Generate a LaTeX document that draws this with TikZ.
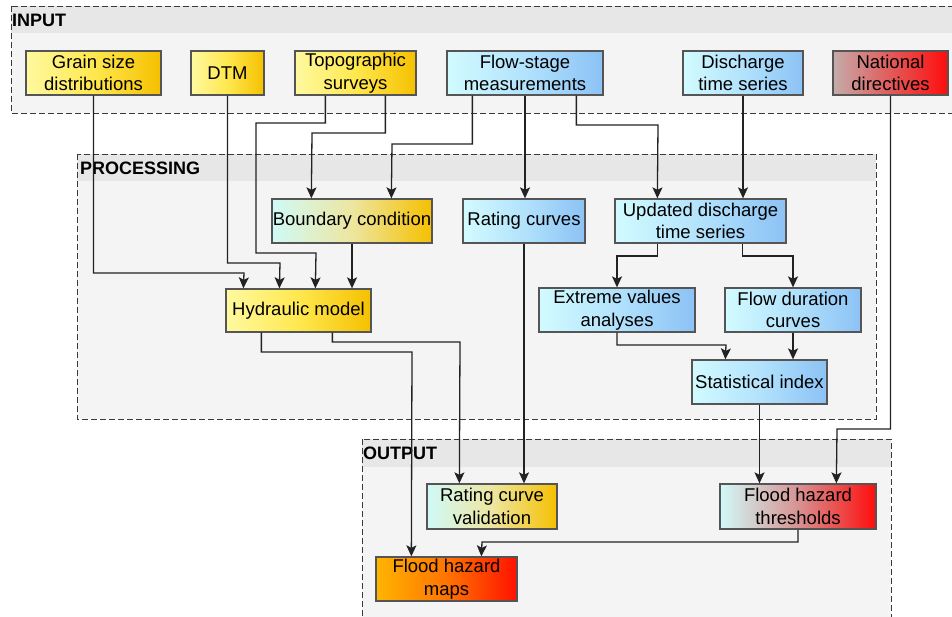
\documentclass[tikz,border=0pt]{standalone}
\usepackage{fontspec}
\setmainfont{Liberation Sans}
\usetikzlibrary{arrows.meta}
\definecolor{Y1}{HTML}{FFF9A0}
\definecolor{Y2}{HTML}{FFE84E}
\definecolor{Y3}{HTML}{F5C000}
\definecolor{B1}{HTML}{D2FBFF}
\definecolor{B2}{HTML}{B2E2FC}
\definecolor{B3}{HTML}{8CC2F5}
\definecolor{R1}{HTML}{C4ACAA}
\definecolor{R2}{HTML}{E25A5A}
\definecolor{R3}{HTML}{FF0C0C}
\definecolor{C1}{HTML}{D0FAF8}
\definecolor{CY2}{HTML}{EDE6A0}
\definecolor{CR2}{HTML}{D79292}
\definecolor{O1}{HTML}{FFB400}
\definecolor{O2}{HTML}{FF7400}
\definecolor{O3}{HTML}{FF1200}
\definecolor{grpfill}{HTML}{F4F4F4}
\definecolor{grphead}{HTML}{E7E7E7}
\definecolor{grpline}{HTML}{3A3A3A}
\definecolor{boxline}{HTML}{555555}
\definecolor{lineC}{HTML}{222222}
\begin{document}
\begin{tikzpicture}[x=1pt,y=-1pt,
  box/.style={draw=boxline, line width=1.3pt, minimum height=44pt, inner sep=0pt,
    align=center, font=\fontsize{18.5}{22.5}\selectfont, text=black},
  yel/.style={box, left color=Y1, right color=Y3, middle color=Y2},
  blu/.style={box, left color=B1, right color=B3, middle color=B2},
  natc/.style={box, left color=R1, right color=R3, middle color=R2},
  cyy/.style={box, left color=C1, right color=Y3, middle color=CY2},
  cyr/.style={box, left color=C1, right color=R3, middle color=CR2},
  ora/.style={box, left color=O1, right color=O3, middle color=O2},
  conn/.style={draw=lineC, line width=1.3pt, -{Stealth[length=11pt,width=10pt,inset=2.5pt]}},
  grp/.style={draw=grpline, line width=0.9pt, dash pattern=on 6pt off 3pt},
  glabel/.style={anchor=west, inner sep=0pt, font=\bfseries\fontsize{18}{20}\selectfont, text=black}
]
\useasboundingbox (0,0) rectangle (952,617);
% groups
\fill[grpfill] (11,6) rectangle (956,113);
\fill[grphead] (11,6) rectangle (956,33);
\draw[grp] (11,6) rectangle (956,113);
\fill[grpfill] (77,154) rectangle (876,419);
\fill[grphead] (77,154) rectangle (876,181);
\draw[grp] (77,154) rectangle (876,419);
\fill[grpfill] (362,439) rectangle (891,625);
\fill[grphead] (362,439) rectangle (891,467);
\draw[grp] (362,439) rectangle (891,625);
\node[glabel] (lin) at (12,20) {INPUT};
\node[glabel] (lproc) at (80,168) {PROCESSING};
\node[glabel] (lout) at (363,453) {OUTPUT};
% input nodes
\node[yel, minimum width=135pt] (grain) at (93.5,73) {Grain size\\distributions};
\node[yel, minimum width=73pt] (dtm) at (227.5,73) {DTM};
\node[yel, minimum width=121pt] (topo) at (355.5,73) {Topographic\\surveys};
\node[blu, minimum width=156pt] (flow) at (525,73) {Flow-stage\\measurements};
\node[blu, minimum width=120pt] (disc) at (743,73) {Discharge\\time series};
\node[natc, minimum width=115pt] (nat) at (890.5,73) {National\\directives};
% processing nodes
\node[cyy, minimum width=160pt] (bc) at (352,221) {Boundary condition};
\node[blu, minimum width=122pt] (rc) at (524,221) {Rating curves};
\node[blu, minimum width=171pt] (upd) at (700.5,221) {Updated discharge\\time series};
\node[yel, minimum width=145pt, minimum height=43pt] (hyd) at (298.5,310.5) {Hydraulic model};
\node[blu, minimum width=156pt] (ext) at (617,310) {Extreme values\\analyses};
\node[blu, minimum width=136pt] (fdc) at (793,310) {Flow duration\\curves};
\node[blu, minimum width=135pt] (stat) at (759.5,382) {Statistical index};
% output nodes
\node[cyy, minimum width=130pt, minimum height=45pt] (rcv) at (492,506.5) {Rating curve\\validation};
\node[cyr, minimum width=156pt, minimum height=45pt] (fht) at (798,506.5) {Flood hazard\\thresholds};
\node[ora, minimum width=141pt] (maps) at (446.5,579) {Flood hazard\\maps};
% connectors
\draw[conn] (grain.south) |- (244,273) -- ([xshift=18pt]hyd.north west);
\draw[conn] (dtm.south) |- (280,263) -- ([xshift=54pt]hyd.north west);
\draw[conn] ([xshift=31pt]topo.south west) |- (256,123) |- (316,253) -- ([xshift=90pt]hyd.north west);
\draw[conn] ([xshift=91pt]topo.south west) |- (312,133) -- ([xshift=40pt]bc.north west);
\draw[conn] ([xshift=26pt]flow.south west) |- (392,144) -- ([xshift=120pt]bc.north west);
\draw[conn] (bc.south) -- (bc.south |- hyd.north);
\draw[conn] (flow.south) -- (flow.south |- rc.north);
\draw[conn] ([xshift=130pt]flow.south west) |- (658,125) -- ([xshift=43pt]upd.north west);
\draw[conn] (disc.south) -- (disc.south |- upd.north);
\draw[conn] (nat.south) |- (837,429) -- ([xshift=117pt]fht.north west);
\draw[conn] ([xshift=43pt]upd.south west) |- (617,256) -- (ext.north);
\draw[conn] ([xshift=128pt]upd.south west) |- (793,256) -- (fdc.north);
\draw[conn] (ext.south) |- (726,345) -- ([xshift=34pt]stat.north west);
\draw[conn] (fdc.south) -- (fdc.south |- stat.north);
\draw[conn] (stat.south) -- (stat.south |- fht.north);
\draw[conn] (rc.south) -- (rc.south |- rcv.north);
\draw[conn] ([xshift=107pt]hyd.south west) |- (460,342) -- ([xshift=33pt]rcv.north west);
\draw[conn] ([xshift=36pt]hyd.south west) |- (412,352) -- ([xshift=36pt]maps.north west);
\draw[conn] (fht.south) |- (482,542) -- ([xshift=106pt]maps.north west);
\end{tikzpicture}
\end{document}
